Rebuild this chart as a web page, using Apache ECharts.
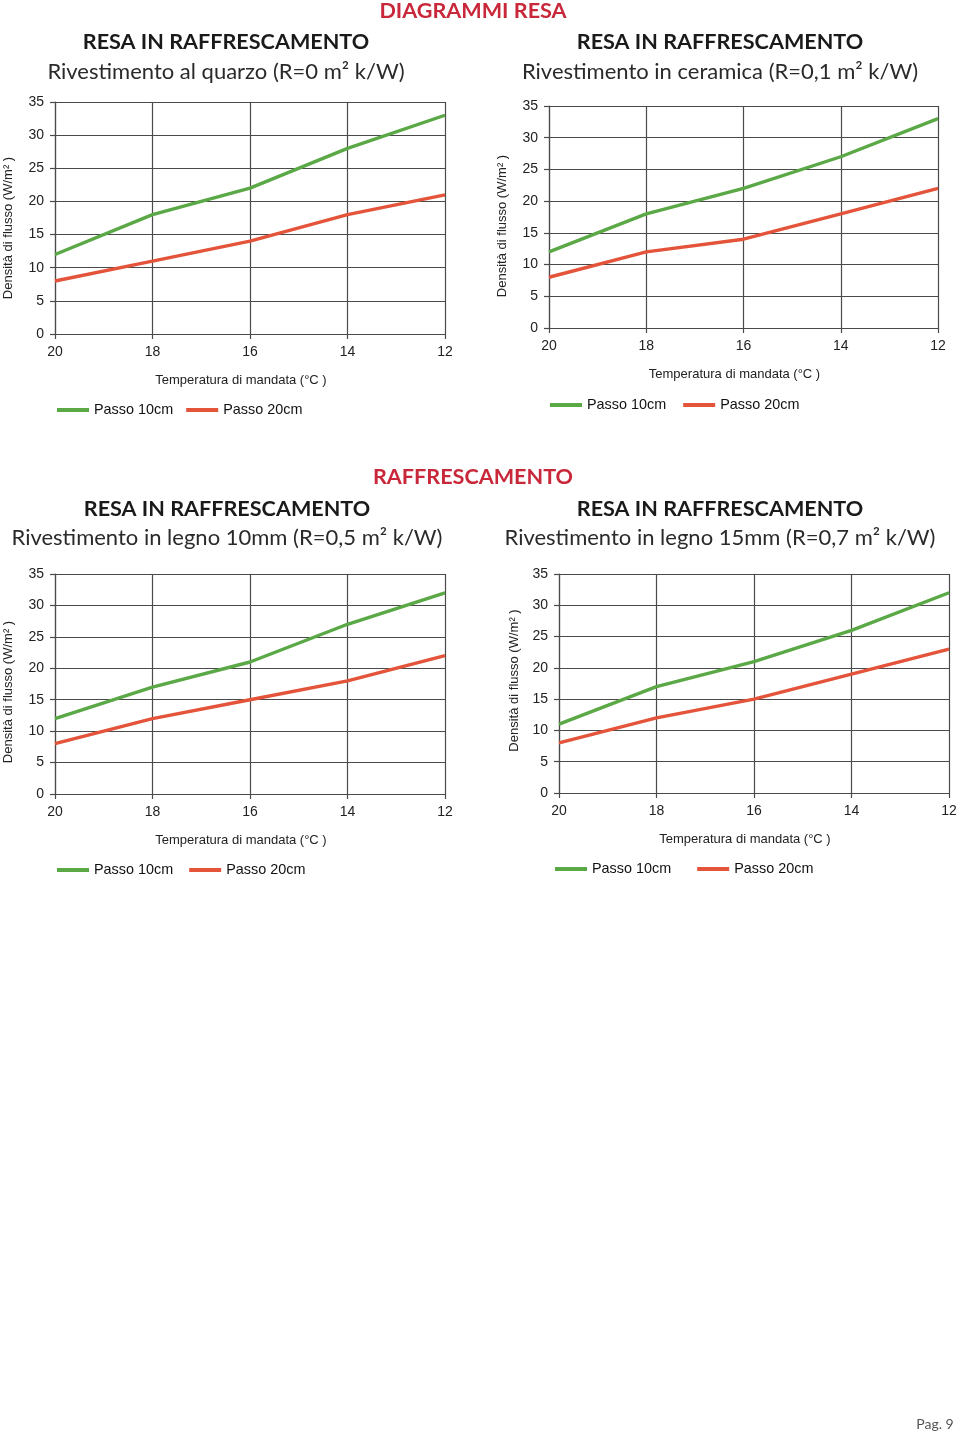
<!DOCTYPE html>
<html>
<head>
<meta charset="utf-8">
<script src="https://cdn.jsdelivr.net/npm/echarts@6/dist/echarts.min.js"></script>
<style>
html,body{margin:0;padding:0;background:#fff;}
#c{width:960px;height:1434px;}
</style>
</head>
<body>
<div id="c"></div>
<script>
// ---- Data ----
const temperatures = ['20', '18', '16', '14', '12'];
const seriesNames = ['Passo 10cm', 'Passo 20cm'];

const quarzo10 = [12, 18, 22, 28, 33];
const quarzo20 = [8, 11, 14, 18, 21];
const ceramica10 = [12, 18, 22, 27, 33];
const ceramica20 = [8, 12, 14, 18, 22];
const legno10mm10 = [12, 17, 21, 27, 32];
const legno10mm20 = [8, 12, 15, 18, 22];
const legno15mm10 = [11, 17, 21, 26, 32];
const legno15mm20 = [8, 12, 15, 19, 23];

const subtitles = [
  'Rivestimento al quarzo (R=0 m² k/W)',
  'Rivestimento in ceramica (R=0,1 m² k/W)',
  'Rivestimento in legno 10mm (R=0,5 m² k/W)',
  'Rivestimento in legno 15mm (R=0,7 m² k/W)'
];
const chartTitle = 'RESA IN RAFFRESCAMENTO';
const yName = 'Densità di flusso (W/m² )';
const xName = 'Temperatura di mandata (°C )';

// ---- Layout ----
const panels = [
  {grid:{left:55, top:102, width:390, height:232}, data:[quarzo10, quarzo20],
   legend:{left:57, top:403, gap:13}, yGap:40, yShift:20, tx:226, ty:[42,72]},
  {grid:{left:549, top:106, width:389, height:222}, data:[ceramica10, ceramica20],
   legend:{left:550, top:398, gap:17}, yGap:40, yShift:18, tx:720, ty:[42,72]},
  {grid:{left:55, top:574, width:390, height:220}, data:[legno10mm10, legno10mm20],
   legend:{left:57, top:863, gap:16}, yGap:40, yShift:16, tx:227, ty:[509,538]},
  {grid:{left:559, top:574, width:390, height:219}, data:[legno15mm10, legno15mm20],
   legend:{left:555, top:862, gap:26}, yGap:38, yShift:-6, tx:720, ty:[509,538]}
];
const colors = ['#5aa846', '#e4543b'];
const gridColor = '#4a4a4a';
const labelFont = 'Liberation Sans, Arial, sans-serif';
const titleFont = 'Lato, "Noto Sans", sans-serif';

const option = {
  animation: false,
  grid: [], xAxis: [], yAxis: [], series: [], legend: [],
  graphic: []
};

panels.forEach((p, i) => {
  option.grid.push(Object.assign({containLabel:false, outerBoundsMode:'none'}, p.grid));
  option.xAxis.push({
    type:'category', gridIndex:i, data:temperatures, boundaryGap:false,
    name:xName, nameLocation:'middle', nameGap:40,
    nameTextStyle:{fontFamily:labelFont, fontSize:13, color:'#222', padding:[0,18,0,0]},
    axisLine:{lineStyle:{color:gridColor, width:1.2}},
    axisTick:{show:true, length:5, lineStyle:{color:gridColor, width:1.2}},
    axisLabel:{fontFamily:labelFont, fontSize:14, color:'#222', margin:11},
    splitLine:{show:true, lineStyle:{color:gridColor, width:1.2}}
  });
  const pad = p.yShift >= 0 ? [0, p.yShift, 0, 0] : [0, 0, 0, -p.yShift];
  option.yAxis.push({
    type:'value', gridIndex:i, min:0, max:35, interval:5,
    name:yName, nameLocation:'middle', nameGap:p.yGap,
    nameTextStyle:{fontFamily:labelFont, fontSize:13, color:'#222', padding:pad},
    axisLine:{show:true, lineStyle:{color:gridColor, width:1.2}},
    axisTick:{show:true, length:5, lineStyle:{color:gridColor, width:1.2}},
    axisLabel:{fontFamily:labelFont, fontSize:14, color:'#222', margin:11},
    splitLine:{show:true, lineStyle:{color:gridColor, width:1.2}}
  });
  p.data.forEach((d, k) => {
    option.series.push({
      type:'line', name:seriesNames[k], xAxisIndex:i, yAxisIndex:i,
      data:d, symbol:'none', smooth:false,
      lineStyle:{color:colors[k], width:3.4}, itemStyle:{color:colors[k]}
    });
  });
  option.legend.push({
    data:seriesNames, left:p.legend.left, top:p.legend.top, padding:0,
    icon:'rect', itemWidth:32, itemHeight:4, itemGap:p.legend.gap,
    textStyle:{fontFamily:labelFont, fontSize:14.4, color:'#111'},
    selectedMode:false
  });
  option.graphic.push({type:'text', style:{text:chartTitle, x:p.tx, y:p.ty[0], align:'center', verticalAlign:'middle',
    font:'bold 21.6px ' + titleFont, fill:'#1a1a1a'}});
  option.graphic.push({type:'text', style:{text:subtitles[i], x:p.tx, y:p.ty[1], align:'center', verticalAlign:'middle',
    font:'22px ' + titleFont, fill:'#2a2a2a'}});
});

option.graphic.push({type:'text', style:{text:'DIAGRAMMI RESA', x:473, y:11, align:'center', verticalAlign:'middle',
  font:'bold 21.6px ' + titleFont, fill:'#c8283a'}});
option.graphic.push({type:'text', style:{text:'RAFFRESCAMENTO', x:473, y:477, align:'center', verticalAlign:'middle',
  font:'bold 21.6px ' + titleFont, fill:'#c8283a'}});
option.graphic.push({type:'text', style:{text:'Pag. 9', x:935, y:1424, align:'center', verticalAlign:'middle',
  font:'14px ' + titleFont, fill:'#555'}});

const chart = echarts.init(document.getElementById('c'), null, {renderer:'canvas'});
chart.setOption(option);
</script>
</body>
</html>
